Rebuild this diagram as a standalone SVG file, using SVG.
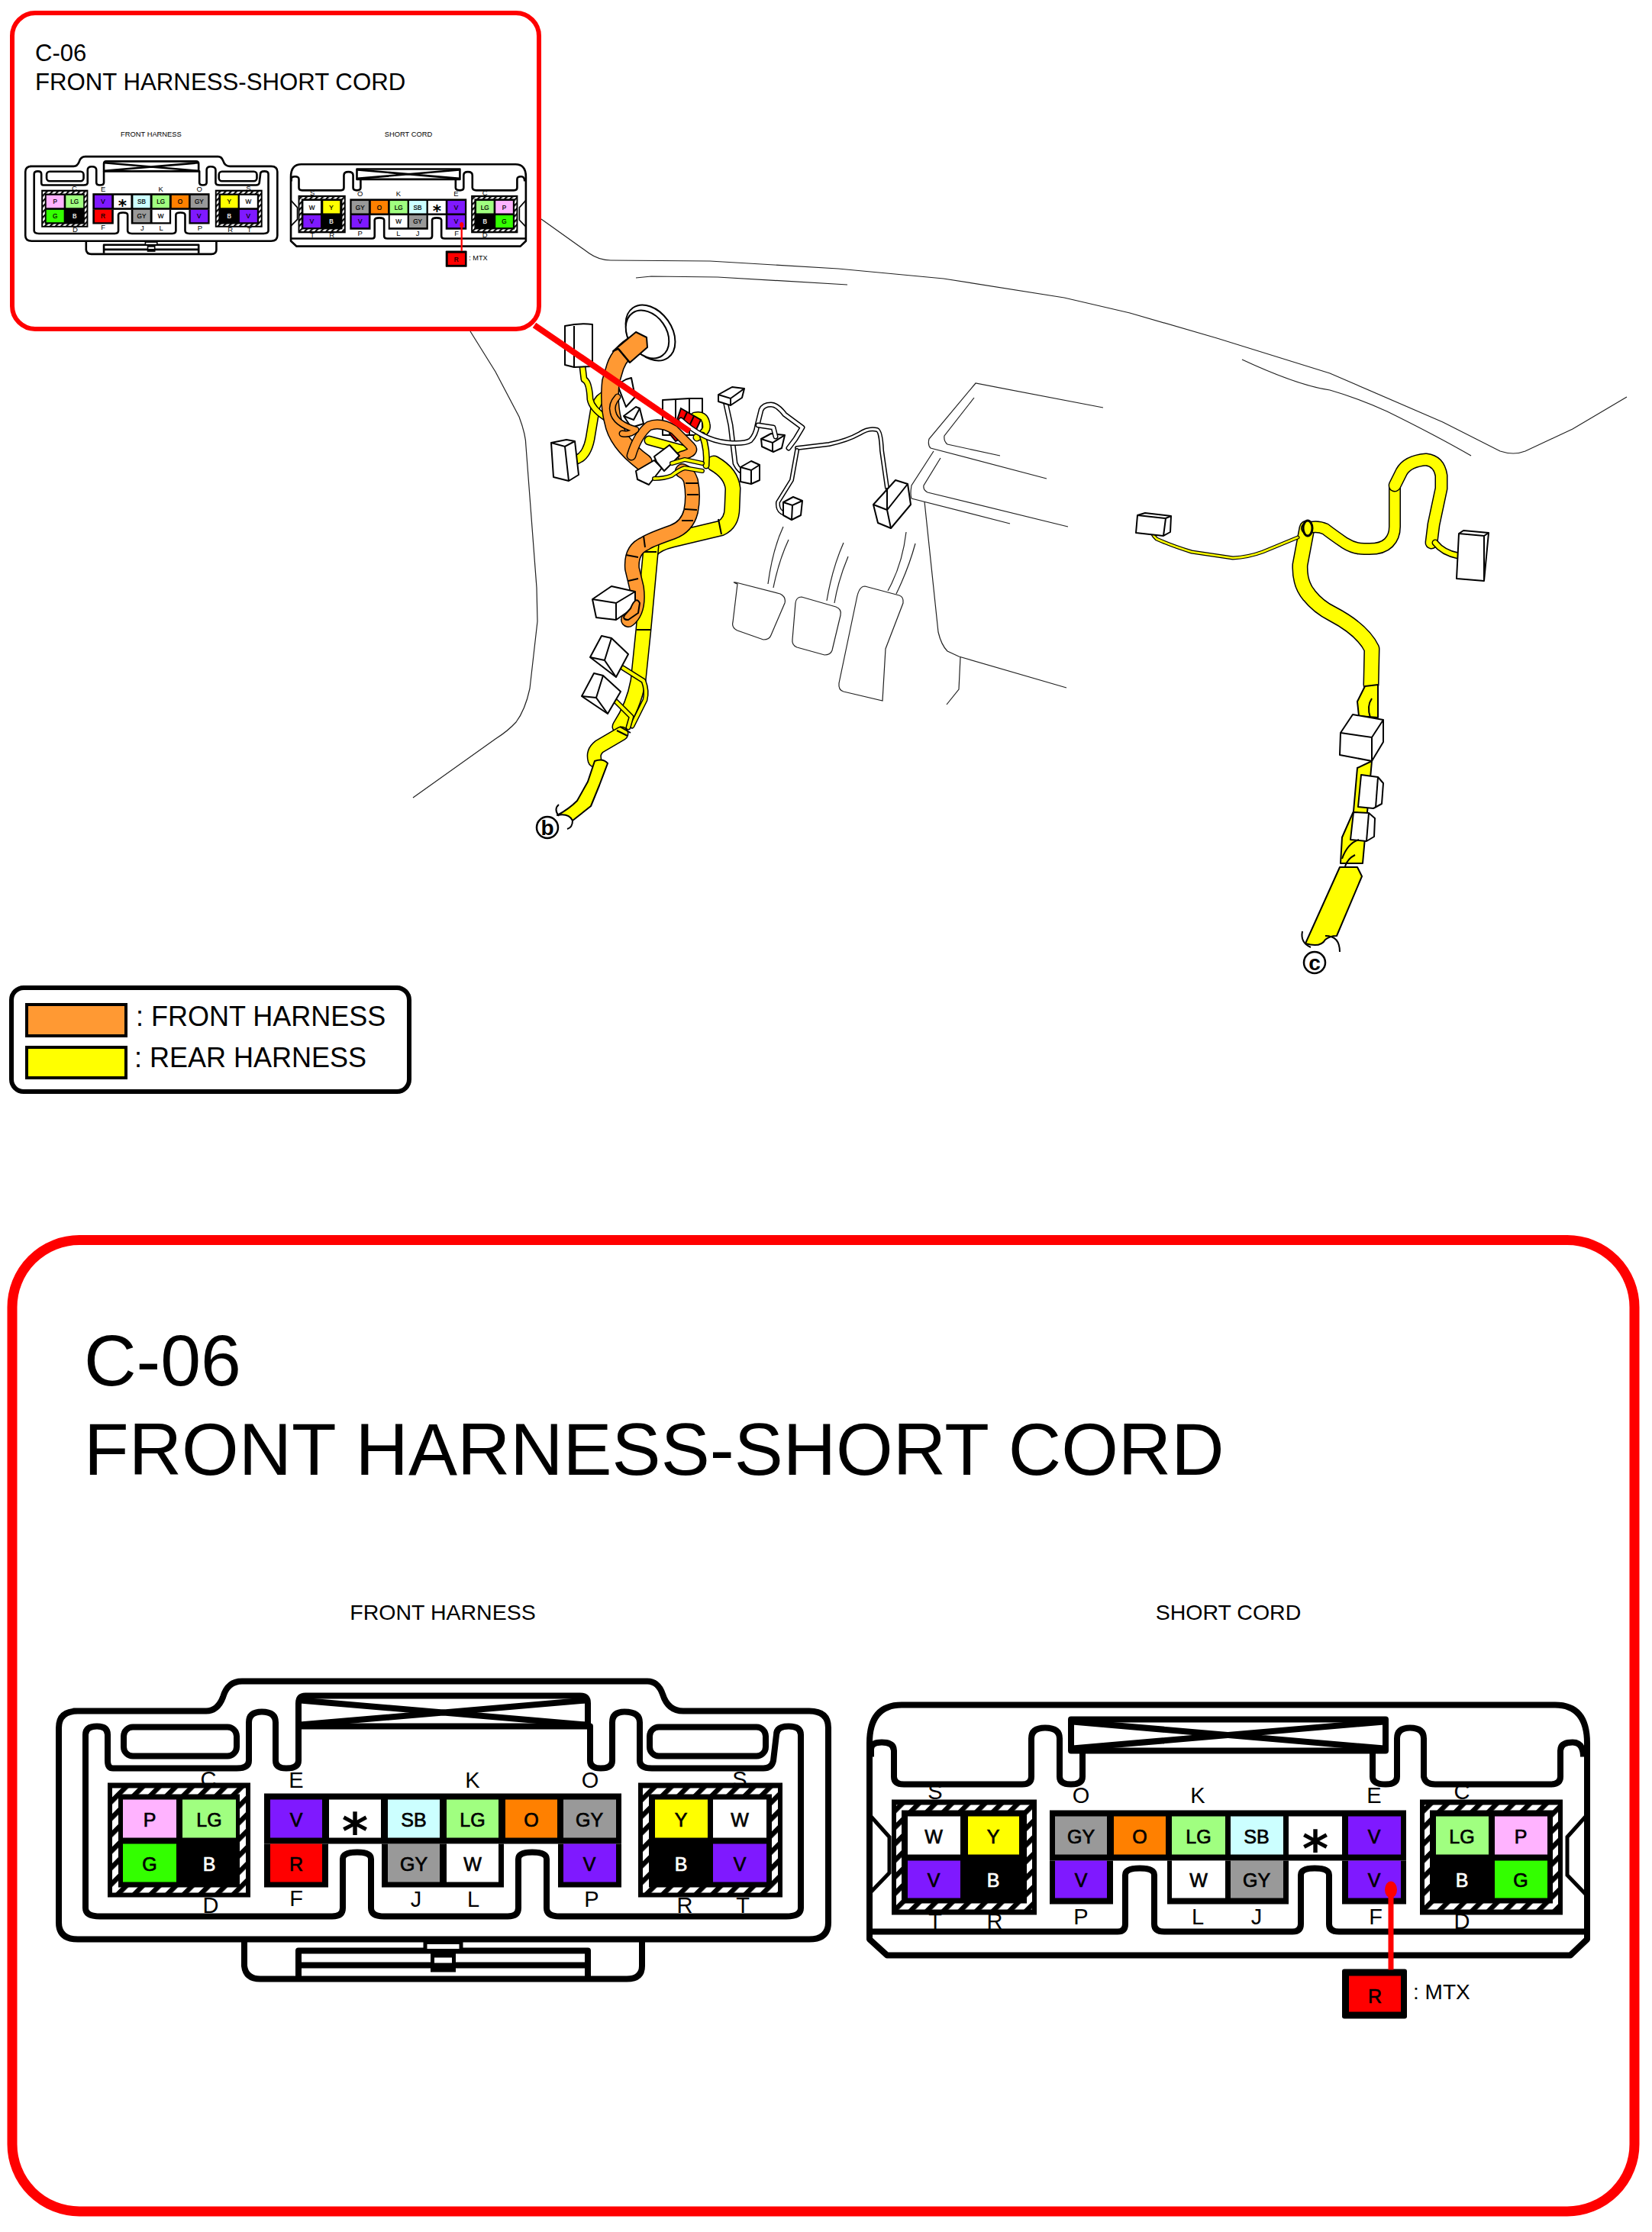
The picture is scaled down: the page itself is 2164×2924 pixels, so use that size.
<svg xmlns="http://www.w3.org/2000/svg" width="2164" height="2924" viewBox="0 0 2164 2924">
<style>
text{font-family:"Liberation Sans",Arial,sans-serif;fill:#000}
.m{text-anchor:middle}
.c{font-size:25px;text-anchor:middle;stroke:#000;stroke-width:.7}
.wt{fill:#fff;stroke:#fff}
.l{font-size:29px;text-anchor:middle}
.h{font-size:28.5px;text-anchor:middle}
.s{font-family:"DejaVu Sans",sans-serif;font-size:66px;font-weight:bold;text-anchor:middle}
.th{fill:none;stroke:#222;stroke-width:1.2}
.ln{fill:none;stroke:#000;stroke-width:8;stroke-linejoin:round}
.k{fill:none;stroke:#000;stroke-linecap:round;stroke-linejoin:round}
.yy{fill:none;stroke:#ffff00;stroke-linecap:round;stroke-linejoin:round}
.oo{fill:none;stroke:#ff9933;stroke-linecap:round;stroke-linejoin:round}
.ww{fill:none;stroke:#fff;stroke-linecap:round;stroke-linejoin:round}
.box{fill:#fff;stroke:#000;stroke-width:2;stroke-linejoin:round}
.pl{fill:none;stroke:#000;stroke-width:2}
.fy{fill:#ffff00;stroke:#000;stroke-width:2;stroke-linejoin:round}
.fo{fill:#ff9933;stroke:#000;stroke-width:2;stroke-linejoin:round}
.P{fill:#ffb3ff}.LG{fill:#a0ff80}.G{fill:#33ff00}.V{fill:#7f19ff}.SB{fill:#ccffff}.O{fill:#ff8000}.GY{fill:#999}.Y{fill:#ff0}.R{fill:#f00}.W{fill:#fff}
.red{fill:none;stroke:#f00}
</style>
<defs>
<pattern id="hatch" patternUnits="userSpaceOnUse" width="15.3" height="16" patternTransform="rotate(45)">
<rect width="15.3" height="16" fill="#fff"/><rect width="6.5" height="16" fill="#000"/>
</pattern>
<g id="connA">
<path class="ln" d="M97 2250H270Q285 2250 292 2232Q298 2211 317 2211H848Q862 2211 868 2228Q875 2250 895 2250H1060Q1085 2250 1085 2272V2527Q1085 2549 1060 2549H102Q77 2549 77 2527V2272Q77 2250 102 2250Z"/>
<path class="ln" d="M320 2551V2584Q322 2601 341 2601H821Q841 2601 841 2584V2551"/>
<path class="ln" d="M391 2598V2564H770V2598M391 2583H770" stroke-width="7"/>
<rect x="557" y="2553" width="47" height="11" fill="#fff" stroke="#000" stroke-width="5"/>
<rect x="564" y="2564" width="33" height="28" fill="#000"/><rect x="569" y="2573" width="23" height="7" fill="#fff"/>
<path class="ln" d="M148 2325Q141 2325 141 2315V2281Q141 2270 127 2270Q112 2270 112 2281V2508Q112 2519 131 2519H435Q449 2519 449 2508V2444Q449 2435 468 2435Q486 2435 486 2444V2508Q486 2519 503 2519H665Q679 2519 679 2508V2444Q679 2435 697 2435Q716 2435 716 2444V2508Q716 2519 733 2519H1030Q1049 2519 1049 2508V2281Q1049 2270 1033 2270Q1017 2270 1017 2281L1013 2315Q1011 2325 1000 2325H854Q838 2325 838 2315V2265Q838 2251 818 2251Q802 2251 802 2265V2315Q802 2325 787 2325Q773 2325 773 2315V2270H391V2315Q391 2325 375 2325Q361 2325 361 2315V2265Q361 2251 343 2251Q326 2251 326 2265V2315Q326 2325 310 2325Z"/>
<path class="ln" d="M391 2270V2240Q391 2230 400 2230H760Q770 2230 770 2240V2270"/>
<path class="ln" d="M393 2236L768 2268M393 2268L768 2236"/>
<rect class="ln" x="162" y="2271" width="148" height="38" rx="12"/>
<rect class="ln" x="851" y="2271" width="152" height="38" rx="12"/>
<rect x="141" y="2344" width="187" height="150"/><rect x="147" y="2351" width="175" height="137" fill="url(#hatch)"/><rect x="155" y="2359" width="159" height="122"/>
<rect class="P" x="161" y="2366" width="70" height="50"/><rect class="LG" x="239" y="2366" width="70" height="50"/><rect class="G" x="161" y="2424" width="70" height="50"/>
<rect x="346" y="2358" width="468" height="66"/><rect x="346" y="2424" width="84" height="57"/><rect x="500" y="2424" width="160" height="57"/><rect x="731" y="2424" width="83" height="57"/>
<rect class="V" x="354" y="2366" width="68" height="50"/><rect class="W" x="431" y="2366" width="68" height="50"/><rect class="SB" x="508" y="2366" width="68" height="50"/><rect class="LG" x="585" y="2366" width="68" height="50"/><rect class="O" x="662" y="2366" width="68" height="50"/><rect class="GY" x="738" y="2366" width="69" height="50"/>
<rect class="R" x="354" y="2424" width="68" height="50"/><rect class="GY" x="508" y="2424" width="68" height="50"/><rect class="W" x="585" y="2424" width="68" height="50"/><rect class="V" x="738" y="2424" width="69" height="50"/>
<rect x="836" y="2344" width="189" height="150"/><rect x="842" y="2351" width="177" height="137" fill="url(#hatch)"/><rect x="850" y="2359" width="161" height="122"/>
<rect class="Y" x="858" y="2366" width="69" height="50"/><rect class="W" x="934" y="2366" width="70" height="50"/><rect class="V" x="934" y="2424" width="70" height="50"/>
</g>
<g id="connB">
<path class="ln" d="M1139 2292Q1139 2242 1181 2242H2037Q2079 2242 2079 2292V2549L2057 2570H1162L1139 2549Z"/>
<path class="ln" d="M1139 2539H1464Q1474 2539 1474 2529V2465Q1474 2456 1493 2456Q1512 2456 1512 2465V2529Q1512 2539 1525 2539H1693Q1704 2539 1704 2529V2465Q1704 2456 1722 2456Q1741 2456 1741 2465V2529Q1741 2539 1754 2539H2079"/>
<path class="ln" d="M1141 2310V2300Q1141 2291 1155 2291Q1171 2291 1171 2302V2336Q1171 2346 1184 2346H1339Q1351 2346 1351 2336V2286Q1351 2272 1369 2272Q1388 2272 1388 2286V2336Q1388 2346 1403 2346Q1418 2346 1418 2336V2302M1798 2302V2336Q1798 2346 1815 2346Q1830 2346 1830 2336V2286Q1830 2272 1847 2272Q1865 2272 1865 2286V2336Q1867 2346 1880 2346H2031Q2044 2346 2044 2336V2302Q2044 2291 2060 2291Q2074 2291 2074 2310"/>
<path class="pl" d="M1139 2386L1165 2415V2462L1139 2489M2079 2386L2053 2415V2465L2079 2492" style="stroke-width:5"/>
<rect class="ln" x="1403" y="2261" width="412" height="41"/>
<path class="ln" d="M1405 2264L1813 2299M1405 2299L1813 2264"/>
<rect x="1168" y="2366" width="190" height="151"/><rect x="1174" y="2373" width="178" height="137" fill="url(#hatch)"/><rect x="1181" y="2380" width="164" height="122"/>
<rect class="W" x="1189" y="2388" width="69" height="50"/><rect class="Y" x="1268" y="2388" width="67" height="50"/><rect class="V" x="1189" y="2446" width="69" height="49"/>
<rect x="1375" y="2380" width="467" height="66"/><rect x="1375" y="2446" width="83" height="57"/><rect x="1529" y="2446" width="159" height="57"/><rect x="1758" y="2446" width="84" height="57"/>
<rect class="GY" x="1382" y="2388" width="68" height="50"/><rect class="O" x="1459" y="2388" width="68" height="50"/><rect class="LG" x="1535" y="2388" width="70" height="50"/><rect class="SB" x="1612" y="2388" width="69" height="50"/><rect class="W" x="1688" y="2388" width="70" height="50"/><rect class="V" x="1766" y="2388" width="69" height="50"/>
<rect class="V" x="1382" y="2446" width="68" height="49"/><rect class="W" x="1535" y="2446" width="70" height="49"/><rect class="GY" x="1612" y="2446" width="69" height="49"/><rect class="V" x="1766" y="2446" width="69" height="49"/>
<rect x="1860" y="2366" width="187" height="151"/><rect x="1866" y="2373" width="175" height="137" fill="url(#hatch)"/><rect x="1873" y="2380" width="161" height="122"/>
<rect class="LG" x="1881" y="2388" width="69" height="50"/><rect class="P" x="1958" y="2388" width="69" height="50"/><rect class="G" x="1958" y="2446" width="69" height="49"/>
</g>
<g id="mtx">
<rect x="1758" y="2588" width="85" height="65" rx="3"/><rect class="R" x="1767" y="2597" width="68" height="47"/>
<path class="red" stroke-width="7" d="M1822 2485V2589"/><ellipse cx="1822" cy="2484" rx="8" ry="11" fill="#f00"/>
</g>
<path id="y1" d="M853 715L843 824L836 892Q830 925 812 952"/>
<path id="y2" d="M852 722Q860 712 881 707L944 692Q959 685 959 665L960 640Q958 620 935 607"/>
<path id="y3" d="M814 961L785 978Q776 985 779 996"/>
<path id="y4" d="M752 603Q768 600 773 575L780 533Q785 520 795 517"/>
<path id="y5" d="M763 480L765 497Q772 500 773 523Q775 535 793 547"/>
<path id="y6" d="M910 545Q923 542 925 555Q928 565 913 573"/>
<path id="y7" d="M850 577L905 592"/>
<path id="y8" d="M857 627Q870 627 880 623Q890 615 897 613L920 617"/>
<path id="y9" d="M880 607L897 602L920 607"/>
<path id="y10" d="M920 570Q927 590 925 610"/>
<path id="y11" d="M816 875L843 892Q848 905 845 917L828 951"/>
<path id="y12" d="M807 919L827 939L823 953"/>
<path id="o1" d="M833 450Q812 462 806 480L800 500Q797 530 803 552Q808 580 843 606"/>
<path id="o2" d="M827 597Q835 570 850 558Q865 552 883 563L905 585Q912 592 893 597"/>
<path id="o3" d="M809 520Q800 530 803 540Q806 555 833 563Q825 570 815 568"/>
<path id="o4" d="M823 812Q838 800 834 770L828 745Q826 720 845 712Q850 708 881 697Q900 690 905 670Q909 650 905 630Q902 620 894 617"/>
<path id="w1" d="M950 525L957 557L963 607Q968 618 977 620"/>
<path id="w2" d="M892 550Q905 562 920 570Q935 578 953 580Q975 582 983 577Q990 570 992 557L997 537Q1000 530 1010 530Q1018 530 1028 543L1051 560L1042 575L1033 587"/>
<path id="w3" d="M993 557L1013 560L1016 572"/>
<path id="w4" d="M1044 587L1086 582Q1110 577 1126 568Q1138 560 1149 563Q1154 565 1155 590L1162 639"/>
<path id="w5" d="M1044 590L1037 629L1019 658Q1018 670 1028 673"/>
<path id="r1" d="M1712 692L1703 740Q1702 765 1715 780Q1727 795 1745 804Q1785 825 1797 850L1796 897"/>
<path id="r2" d="M1712 692Q1725 688 1736 693Q1745 700 1761 711Q1775 720 1790 719Q1810 720 1819 711Q1827 703 1827 690V638"/>
<path id="r3" d="M1827 636L1836 618Q1844 604 1868 602Q1885 604 1888 623V640L1878 687L1875 711"/>
<path id="r4" d="M1880 711Q1890 724 1910 728"/>
<path id="r5" d="M1506 688Q1508 700 1515 706Q1535 715 1561 723L1615 731Q1635 730 1654 723L1700 704"/>
</defs>

<g id="scene-lines" class="th">
<path d="M709 287L772 332Q785 341 800 341L930 342L1098 352L1236 365L1394 390L1480 410L1594 443L1742 489L1890 553L1965 591Q1983 597 1998 591L2060 562L2131 520"/>
<path d="M833 364L853 362L940 363L1110 373"/>
<path d="M1627 471Q1700 505 1742 511Q1780 522 1817 539Q1880 570 1927 597"/>
<path d="M616 434L649 487L680 546Q689 570 689 585L703 770L704 814L694 902Q688 930 676 946Q665 958 649 968L541 1045"/>
<path d="M1445 534L1278 502L1217 575Q1215 583 1219 587L1371 627"/>
<path d="M1276 521L1237 571Q1236 578 1241 582L1310 597"/>
<path d="M1223 591L1194 636Q1192 648 1194 653L1323 686"/>
<path d="M1232 600L1210 636Q1209 642 1215 645L1399 690"/>
<path d="M1211 657L1229 828Q1233 845 1241 853L1256 860L1397 901"/>
<path d="M1258 861L1256 903L1240 923"/>
<path d="M966 765Q958 762 964 763L1022 778Q1030 782 1028 790L1010 832Q1008 838 1000 838L966 826Q958 822 960 815Z"/>
<path d="M1050 782L1095 795Q1103 798 1101 806L1090 852Q1088 858 1080 858L1044 848Q1037 845 1038 838L1042 790Q1043 782 1050 782Z"/>
<path d="M1133 768L1178 780Q1184 782 1183 790L1160 850L1156 918L1105 906Q1098 904 1099 895L1122 785Q1125 768 1133 768Z"/>
<path d="M1026 690Q1012 720 1006 765M1033 707Q1020 735 1013 770M1105 711Q1090 745 1083 787M1111 729Q1098 760 1093 790M1187 697Q1182 740 1163 774M1199 712Q1190 745 1174 778"/>
</g>
<g id="harness-left">
<ellipse class="box" cx="852" cy="436" rx="40" ry="28" transform="rotate(55 852 436)"/>
<ellipse class="box" cx="848" cy="438" rx="34" ry="25" transform="rotate(55 848 438)"/>
<use href="#y2" class="k" stroke-width="21"/><use href="#y2" class="yy" stroke-width="18"/>
<use href="#y1" class="k" stroke-width="21"/><use href="#y1" class="yy" stroke-width="18"/>
<use href="#y3" class="k" stroke-width="19"/><use href="#y3" class="yy" stroke-width="16"/>
<path class="fy" d="M779 997Q790 993 796 1000L785 1029L774 1056L750 1075Q745 1065 730 1068Q745 1060 756 1049L770 1024Z"/>
<use href="#y4" class="k" stroke-width="13"/><use href="#y4" class="yy" stroke-width="10"/>
<use href="#y5" class="k" stroke-width="9"/><use href="#y5" class="yy" stroke-width="6"/>
<use href="#y11" class="k" stroke-width="7"/><use href="#y11" class="yy" stroke-width="4"/>
<use href="#y12" class="k" stroke-width="7"/><use href="#y12" class="yy" stroke-width="4"/>
<path class="pl" d="M732 1054Q725 1060 732 1069M750 1075Q750 1084 743 1086M834 825L852 825M941 680L945 700M843 723L860 723M812 952L826 960M808 957L822 964"/>
<path class="box" d="M740 427Q760 423 776 425V480L752 481L740 478Z"/><path class="pl" d="M752 427V481"/>
<path class="box" d="M722 580L742 576L753 578L758 622L745 630L725 625Z"/><path class="pl" d="M722 580L740 585L753 578M740 585L745 630"/>
<path class="box" d="M868 524L903 522H920V570H868Z"/><path class="pl" d="M885 524V570M903 522V570"/>
<use href="#y7" class="k" stroke-width="13"/><use href="#y7" class="yy" stroke-width="10"/>
<use href="#y6" class="k" stroke-width="11"/><use href="#y6" class="yy" stroke-width="8"/>
<use href="#y10" class="k" stroke-width="9"/><use href="#y10" class="yy" stroke-width="6"/>
<path d="M892 535L918 550L912 563L887 550Z" fill="#f00" stroke="#000" stroke-width="2"/><path d="M877 568L887 562L897 572L885 578Z" fill="#f00" stroke="#000" stroke-width="2"/><path class="pl" d="M900 540L894 553M909 545L903 558"/>
<path class="box" d="M803 507L820 497L827 495L832 520L820 533L810 507Z"/>
<path class="box" d="M817 545L833 533L838 535L843 555L827 560Z"/><path class="pl" d="M817 545L830 550L838 535"/>
<use href="#o1" class="k" stroke-width="24"/><use href="#o1" class="oo" stroke-width="21"/>
<path class="fo" d="M803 460L833 435L847 442L848 455L825 475L810 457Z"/><path class="pl" d="M810 457L825 475"/>
<use href="#o2" class="k" stroke-width="13"/><use href="#o2" class="oo" stroke-width="10"/>
<use href="#o3" class="k" stroke-width="9"/><use href="#o3" class="oo" stroke-width="6"/>
<use href="#o4" class="k" stroke-width="20"/><use href="#o4" class="oo" stroke-width="17"/>
<path class="pl" d="M898 633L915 633M900 648L915 648M897 667L913 668M893 682L908 682M843 702L845 717M820 727L836 730M823 761L836 758"/>
<path class="box" d="M833 617L857 603L867 613L850 635L835 628Z"/>
<path class="box" d="M857 598L877 583L890 597L870 617L860 605Z"/>
<path class="box" d="M776 785L801 768L832 775L832 795L807 812L781 809Z"/><path class="pl" d="M776 785L807 790L832 775M807 790V812"/>
<path class="fo" d="M823 812Q815 812 818 806L826 797Q833 780 838 790L836 803Z"/>
<path class="box" d="M773 861L788 833L801 836L823 857L807 887Z"/><path class="pl" d="M801 836L792 865L807 887M792 865L773 861"/>
<path class="box" d="M762 912L778 882L790 885L813 906L796 935Z"/><path class="pl" d="M790 885L781 914L796 935M781 914L762 912"/>
<use href="#y8" class="k" stroke-width="6"/><use href="#y8" class="yy" stroke-width="3.5"/>
<use href="#y9" class="k" stroke-width="6"/><use href="#y9" class="yy" stroke-width="3.5"/>
<use href="#w1" class="k" stroke-width="7"/><use href="#w1" class="ww" stroke-width="4"/>
<use href="#w2" class="k" stroke-width="7"/><use href="#w2" class="ww" stroke-width="4"/>
<path class="box" d="M997 575L1010 568L1028 570L1024 587L1013 592L998 585Z"/><path class="pl" d="M997 575L1012 580L1028 570M1012 580V592"/>
<use href="#w3" class="k" stroke-width="7"/><use href="#w3" class="ww" stroke-width="4"/>
<use href="#w4" class="k" stroke-width="6"/><use href="#w4" class="ww" stroke-width="3"/>
<use href="#w5" class="k" stroke-width="6"/><use href="#w5" class="ww" stroke-width="3"/>
<path class="box" d="M941 517L959 507L975 509L972 521L957 531L941 526Z"/><path class="pl" d="M941 517L957 522L975 509M957 522V531"/>
<path class="box" d="M970 612L984 604L995 609V629L984 634L970 631Z"/><path class="pl" d="M970 612L984 616L995 609M984 616V634"/>
<path class="box" d="M1026 658L1039 651L1051 656L1049 675L1037 681L1026 675Z"/><path class="pl" d="M1026 658L1038 662L1051 656M1038 662L1037 681"/>
<path class="box" d="M1144 661L1173 629L1189 634L1193 661L1167 692L1150 685Z"/><path class="pl" d="M1144 661L1162 668L1189 634M1162 668L1167 692M1162 639V668"/>
<circle cx="717" cy="1084" r="14" fill="#fff" stroke="#000" stroke-width="2.5"/>
<text class="m" x="717" y="1094" font-size="28" font-weight="bold">b</text>
</g>
<g id="harness-right">
<use href="#r1" class="k" stroke-width="21"/><use href="#r1" class="yy" stroke-width="18"/>
<use href="#r2" class="k" stroke-width="16"/><use href="#r2" class="yy" stroke-width="13"/>
<use href="#r3" class="k" stroke-width="17"/><use href="#r3" class="yy" stroke-width="14"/>
<use href="#r4" class="k" stroke-width="9"/><use href="#r4" class="yy" stroke-width="6"/>
<use href="#r5" class="k" stroke-width="5"/><use href="#r5" class="yy" stroke-width="2.5"/>
<ellipse cx="1713" cy="692" rx="6" ry="10" fill="#ffff00" stroke="#000" stroke-width="3"/>
<path class="fy" d="M1788 899L1805 897V940L1780 938L1778 919Z"/><path class="pl" d="M1797 915Q1790 925 1795 940"/>
<path class="box" d="M1911 699L1917 695L1950 698L1944 761L1908 758Z"/><path class="pl" d="M1911 699L1944 702L1950 698M1944 702V761"/>
<path class="box" d="M1490 675L1500 672L1534 676L1533 697L1524 702L1488 698Z"/><path class="pl" d="M1490 675L1527 679L1534 676M1527 679L1524 702"/>
<path class="fy" d="M1778 1006L1797 997L1785 1131L1756 1131L1758 1097L1773 1063Z"/>
<path class="box" d="M1756 960L1772 936L1812 943V972L1797 997L1755 989Z"/><path class="pl" d="M1756 960L1797 966L1812 943M1797 966V997"/>
<path class="box" d="M1783 1015L1805 1018L1812 1026L1810 1053L1799 1059L1779 1057Z"/><path class="pl" d="M1805 1018L1802 1058"/>
<path class="box" d="M1773 1064L1793 1065L1801 1072L1800 1096L1790 1102L1769 1100Z"/><path class="pl" d="M1793 1065L1790 1102"/>
<path class="pl" d="M1758 1125Q1765 1105 1780 1100M1762 1135Q1765 1125 1775 1120"/>
<path class="fy" d="M1755 1136H1778L1784 1148L1751 1226Q1742 1226 1736 1231Q1730 1242 1710 1236Z"/>
<path class="pl" d="M1706 1220Q1703 1235 1717 1241M1736 1226Q1755 1226 1755 1247"/>
<circle cx="1722" cy="1261" r="14" fill="#fff" stroke="#000" stroke-width="2.5"/>
<text class="m" x="1722" y="1271" font-size="28" font-weight="bold">c</text>
</g>
<g id="connectors">
<path d="M700 426L903 565" class="red" stroke-width="8"/>
</g>
<g id="inset-title">
<rect x="16" y="17" width="690" height="414" rx="30" fill="#fff" stroke="#f00" stroke-width="6"/>
<text x="46" y="80" font-size="31">C-06</text>
<text x="46" y="118" font-size="31.2">FRONT HARNESS-SHORT CORD</text>
</g>
<g id="inset-connectors" transform="translate(8,-519) scale(.3275)">
<text class="h" x="580" y="2130">FRONT HARNESS</text><text class="h" x="1609" y="2130">SHORT CORD</text>
<text class="l" x="273" y="2349">C</text><text class="l" x="388" y="2350">E</text><text class="l" x="619" y="2350">K</text><text class="l" x="773" y="2350">O</text><text class="l" x="969" y="2349">S</text><text class="l" x="388" y="2505">F</text><text class="l" x="545" y="2506">J</text><text class="l" x="620" y="2506">L</text><text class="l" x="775" y="2506">P</text><text class="l" x="276" y="2514">D</text><text class="l" x="897" y="2514">R</text><text class="l" x="973" y="2514">T</text>
<use href="#connA"/>
<text class="c" x="196" y="2401">P</text><text class="c" x="274" y="2401">LG</text><text class="c" x="196" y="2459">G</text><text class="c wt" x="274" y="2459">B</text>
<text class="c" x="388" y="2401">V</text><text class="s" x="465" y="2430">*</text><text class="c" x="542" y="2401">SB</text><text class="c" x="619" y="2401">LG</text><text class="c" x="696" y="2401">O</text><text class="c" x="772" y="2401">GY</text>
<text class="c" x="388" y="2459">R</text><text class="c" x="542" y="2459">GY</text><text class="c" x="619" y="2459">W</text><text class="c" x="772" y="2459">V</text>
<text class="c" x="892" y="2401">Y</text><text class="c" x="969" y="2401">W</text><text class="c wt" x="892" y="2459">B</text><text class="c" x="969" y="2459">V</text>
<text class="l" x="1225" y="2365">S</text><text class="l" x="1416" y="2370">O</text><text class="l" x="1569" y="2370">K</text><text class="l" x="1800" y="2370">E</text><text class="l" x="1915" y="2365">C</text><text class="l" x="1225" y="2535">T</text><text class="l" x="1303" y="2535">R</text><text class="l" x="1416" y="2529">P</text><text class="l" x="1569" y="2529">L</text><text class="l" x="1646" y="2529">J</text><text class="l" x="1802" y="2529">F</text><text class="l" x="1915" y="2535">D</text>
<use href="#connB"/>
<text class="c" x="1223" y="2423">W</text><text class="c" x="1301" y="2423">Y</text><text class="c" x="1223" y="2480">V</text><text class="c wt" x="1301" y="2480">B</text>
<text class="c" x="1416" y="2423">GY</text><text class="c" x="1493" y="2423">O</text><text class="c" x="1570" y="2423">LG</text><text class="c" x="1646" y="2423">SB</text><text class="s" x="1723" y="2453">*</text><text class="c" x="1800" y="2423">V</text>
<text class="c" x="1416" y="2480">V</text><text class="c" x="1570" y="2480">W</text><text class="c" x="1646" y="2480">GY</text><text class="c" x="1800" y="2480">V</text>
<text class="c" x="1915" y="2423">LG</text><text class="c" x="1992" y="2423">P</text><text class="c wt" x="1915" y="2480">B</text><text class="c" x="1992" y="2480">G</text>
<use href="#mtx"/>
<text class="c" x="1801" y="2632">R</text><text x="1851" y="2627" font-size="28">: MTX</text>
</g>
<g id="legend">
<rect x="15" y="1294" width="521" height="136" rx="16" fill="#fff" stroke="#000" stroke-width="6"/>
<rect x="35" y="1316" width="130" height="41" fill="#ff9933" stroke="#000" stroke-width="4"/>
<rect x="35" y="1372" width="130" height="40" fill="#ffff00" stroke="#000" stroke-width="4"/>
<text x="178" y="1344" font-size="36">: FRONT HARNESS</text>
<text x="176" y="1398" font-size="36">: REAR HARNESS</text>
</g>
<g id="detail-c06">
<rect x="16" y="1624.5" width="2125" height="1272.5" rx="88" fill="#fff" stroke="#f00" stroke-width="13"/>
<text x="110" y="1815" font-size="95">C-06</text>
<text x="110" y="1932" font-size="96">FRONT HARNESS-SHORT CORD</text>
</g>
<g id="details" transform="translate(0,-8.5)">
<text class="h" x="580" y="2130">FRONT HARNESS</text><text class="h" x="1609" y="2130">SHORT CORD</text>
<g id="connector-front-harness">
<text class="l" x="273" y="2349">C</text><text class="l" x="388" y="2350">E</text><text class="l" x="619" y="2350">K</text><text class="l" x="773" y="2350">O</text><text class="l" x="969" y="2349">S</text><text class="l" x="388" y="2505">F</text><text class="l" x="545" y="2506">J</text><text class="l" x="620" y="2506">L</text><text class="l" x="775" y="2506">P</text><text class="l" x="276" y="2514">D</text><text class="l" x="897" y="2514">R</text><text class="l" x="973" y="2514">T</text>
<use href="#connA"/>
<text class="c" x="196" y="2401">P</text><text class="c" x="274" y="2401">LG</text><text class="c" x="196" y="2459">G</text><text class="c wt" x="274" y="2459">B</text>
<text class="c" x="388" y="2401">V</text><text class="s" x="465" y="2430">*</text><text class="c" x="542" y="2401">SB</text><text class="c" x="619" y="2401">LG</text><text class="c" x="696" y="2401">O</text><text class="c" x="772" y="2401">GY</text>
<text class="c" x="388" y="2459">R</text><text class="c" x="542" y="2459">GY</text><text class="c" x="619" y="2459">W</text><text class="c" x="772" y="2459">V</text>
<text class="c" x="892" y="2401">Y</text><text class="c" x="969" y="2401">W</text><text class="c wt" x="892" y="2459">B</text><text class="c" x="969" y="2459">V</text>
</g>
<g id="connector-short-cord">
<text class="l" x="1225" y="2365">S</text><text class="l" x="1416" y="2370">O</text><text class="l" x="1569" y="2370">K</text><text class="l" x="1800" y="2370">E</text><text class="l" x="1915" y="2365">C</text><text class="l" x="1225" y="2535">T</text><text class="l" x="1303" y="2535">R</text><text class="l" x="1416" y="2529">P</text><text class="l" x="1569" y="2529">L</text><text class="l" x="1646" y="2529">J</text><text class="l" x="1802" y="2529">F</text><text class="l" x="1915" y="2535">D</text>
<use href="#connB"/>
<text class="c" x="1223" y="2423">W</text><text class="c" x="1301" y="2423">Y</text><text class="c" x="1223" y="2480">V</text><text class="c wt" x="1301" y="2480">B</text>
<text class="c" x="1416" y="2423">GY</text><text class="c" x="1493" y="2423">O</text><text class="c" x="1570" y="2423">LG</text><text class="c" x="1646" y="2423">SB</text><text class="s" x="1723" y="2453">*</text><text class="c" x="1800" y="2423">V</text>
<text class="c" x="1416" y="2480">V</text><text class="c" x="1570" y="2480">W</text><text class="c" x="1646" y="2480">GY</text><text class="c" x="1800" y="2480">V</text>
<text class="c" x="1915" y="2423">LG</text><text class="c" x="1992" y="2423">P</text><text class="c wt" x="1915" y="2480">B</text><text class="c" x="1992" y="2480">G</text>
</g>
<g id="mtx-pin">
<use href="#mtx"/>
<text class="c" x="1801" y="2632">R</text><text x="1851" y="2627" font-size="28">: MTX</text>
</g>
</g>
</svg>
